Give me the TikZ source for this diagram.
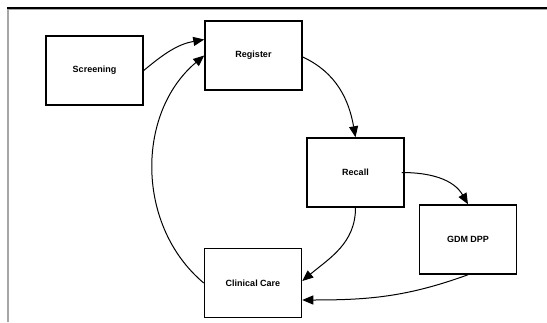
\documentclass[tikz,border=0pt]{standalone}
\usepackage{fontspec}
\setmainfont{Liberation Sans}
\usetikzlibrary{arrows.meta}
\begin{document}
\begin{tikzpicture}[x=1pt,y=-1pt,
  stepbox/.style={draw=black, line width=1.5pt, minimum width=97pt, minimum height=69pt,
    inner sep=0pt, font=\fontsize{9}{10}\selectfont\bfseries},
  flow/.style={line width=1pt, -{Triangle[length=11pt,width=9pt]}}]
\useasboundingbox (0,0) rectangle (547,322);
% frame
\draw[gray!70, line width=1pt] (8,9.5) -- (547,9.5);
\draw[gray!70, line width=1.2pt] (8,9) -- (8,322);
\draw[black, line width=1.4pt] (7,8) -- (547,8);
% nodes
\node[stepbox] (scr) at (94.5,70.5) {Screening};
\node[stepbox] (reg) at (253.5,55.5) {Register};
\node[stepbox] (rec) at (355.5,172.5) {Recall};
\node[stepbox] (gdm) at (468,239.5) {GDM DPP};
\node[stepbox] (cc) at (253,283) {Clinical Care};
% connectors
\draw[flow] (scr.east) to[out=40, in=190] ([yshift=16pt]reg.west);
\draw[flow] (cc.west) to[out=140, in=220] (reg.west);
\draw[flow] ([yshift=-1.5pt]reg.east) to[out=-25, in=100] (rec.north);
\draw[flow] ([xshift=-3pt]rec.east) to[out=0, in=120] (gdm.north);
\draw[flow] (rec.south) to[out=-90, in=40] ([yshift=2pt]cc.east);
\draw[flow] (gdm.south) to[out=-160, in=0] ([yshift=-17pt]cc.east);
\end{tikzpicture}
\end{document}
